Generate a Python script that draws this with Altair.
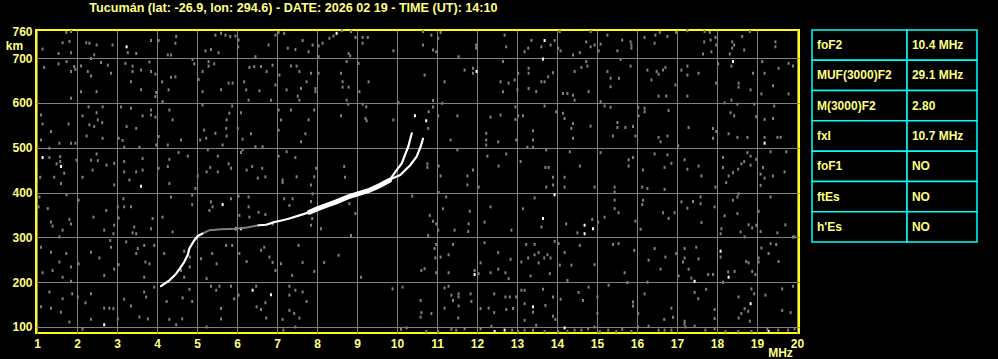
import altair as alt
import pandas as pd

TITLE = "Tucumán (lat: -26.9, lon: 294.6) - DATE: 2026 02 19 - TIME (UT): 14:10"
FREQ_TICKS = list(range(1, 21))
HEIGHT_TICKS = [100, 200, 300, 400, 500, 600, 700, 760]

PARAM_NAMES = ["foF2", "MUF(3000)F2", "M(3000)F2", "fxI", "foF1", "ftEs", "h'Es"]
PARAM_VALUES = ["10.4 MHz", "29.1 MHz", "2.80", "10.7 MHz", "NO", "NO", "NO"]

# ---- ionogram trace (frequency MHz, virtual height km) ----
O_LOW_F = [4.10, 4.31, 4.46, 4.56, 4.68, 4.77, 4.81, 4.93, 5.02, 5.13]
O_LOW_H = [191, 204, 217, 229, 245, 261, 275, 293, 303, 308]
GAP_F = [5.13, 5.31, 5.60, 5.97, 6.25, 6.54]
GAP_H = [308, 316, 318, 319, 322, 327]
MAIN_F = [6.54, 6.73, 6.93, 7.14, 7.31, 7.56, 7.81, 8.02, 8.23, 8.48, 8.77, 9.02, 9.31, 9.56, 9.81]
MAIN_H = [327, 328, 334, 338, 342, 349, 356, 364, 371, 379, 390, 397, 405, 415, 427]
O_TOP_F = [9.81, 9.99, 10.12, 10.20, 10.28, 10.37]
O_TOP_H = [427, 450, 465, 484, 502, 532]
X_TOP_F = [9.85, 10.08, 10.33, 10.49, 10.59, 10.65]
X_TOP_H = [430, 439, 461, 480, 502, 520]

# ---- scattered echoes (frequency MHz, virtual height km) ----
NOISE_GRAY = [
    (1.73,757),(1.85,759),(1.81,737),(1.64,734),(2.31,733),(2.23,734),(2.49,729),(2.89,729),(1.14,720),(1.54,710),
    (1.85,712),(2.43,707),(2.35,699),(3.27,712),(3.48,710),(3.85,739),(4.04,739),(4.48,748),(4.46,733),(4.27,707),
    (4.35,707),(5.46,751),(5.60,755),(5.71,751),(5.83,748),(5.96,749),(6.04,740),(6.03,725),(5.21,716),(5.35,719),
    (5.54,712),(6.46,703),(6.79,729),(6.96,751),(7.04,757),(7.18,755),(7.64,739),(7.89,729),(7.79,714),(7.27,722),
    (7.46,719),(8.04,727),(8.14,733),(8.31,744),(8.41,749),(8.63,761),(8.85,759),(8.96,746),(9.14,746),(9.27,746),
    (9.14,733),(8.79,710),(8.83,705),(8.04,703),(9.91,716),
    (1.18,679),(1.54,687),(1.74,692),(1.85,670),(1.93,681),(1.96,675),(2.10,682),(2.27,670),(2.35,660),(2.85,666),
    (2.10,625),(2.49,625),(1.85,610),(2.60,690),(2.77,684),(3.21,688),(3.39,682),(3.60,673),(3.39,670),(3.81,691),
    (3.85,670),(3.96,664),(4.35,657),(4.46,658),(4.13,647),(3.35,647),(3.60,629),(3.98,623),(3.96,614),(4.29,629),
    (4.89,697),(4.93,687),(5.14,670),(5.29,692),(5.29,682),(5.43,687),(5.04,652),(5.14,625),(5.60,629),(5.79,644),
    (5.89,644),(6.31,679),(6.43,681),(6.60,681),(6.74,670),(6.89,684),(7.06,662),(6.18,647),(6.29,606),(6.56,627),
    (6.23,629),(6.85,606),(6.96,640),(7.35,682),(7.49,682),(7.56,670),(7.85,666),(7.74,647),(7.60,632),(7.24,629),
    (7.52,615),(7.56,606),(7.96,632),(7.96,625),(8.04,666),(8.60,666),(8.64,647),(8.64,635),(8.74,692),(9.04,688),
    (8.79,635),(9.29,647),(9.06,625),(8.74,606),(8.78,597),
    (1.10,573),(1.14,553),(1.35,536),(1.10,517),(1.31,499),(1.56,510),(1.85,510),(1.96,510),(2.29,591),(2.49,578),
    (2.31,551),(2.43,547),(2.52,562),(2.63,556),(2.64,591),(2.14,571),(1.79,553),(2.24,526),(2.64,521),(3.10,591),
    (3.04,521),(3.14,516),(3.24,547),(3.48,543),(3.35,588),(3.64,571),(3.85,584),(3.85,573),(3.96,568),(4.04,525),
    (3.98,506),(4.14,603),(4.31,584),(4.39,562),(4.27,506),(3.56,501),(3.18,501),(5.14,595),(5.18,539),(5.08,517),
    (5.23,521),(5.46,532),(5.73,543),(5.74,562),(5.81,577),(5.88,593),(6.02,543),(6.10,578),(6.14,519),(5.74,526),
    (5.64,506),(4.60,517),(6.35,531),(6.46,502),(6.64,502),(7.04,584),(7.04,539),(7.10,562),(7.35,584),(7.60,513),
    (7.71,531),(7.79,562),(7.93,584),(8.60,571),(9.14,597),(9.23,591),(9.21,565),(9.24,560),(9.91,562),(10.04,600),
    (1.31,478),(1.58,480),(1.58,469),(1.49,464),(1.08,434),(1.43,434),(1.68,443),(1.99,472),(2.14,434),(2.35,472),
    (2.49,486),(2.52,471),(2.39,450),(2.74,461),(2.93,465),(3.18,469),(3.18,446),(3.48,446),(3.64,476),(3.64,450),
    (3.31,428),(4.04,454),(4.27,458),(4.31,474),(4.54,489),(4.77,481),(5.02,437),(5.27,495),(5.24,446),(5.33,456),
    (5.52,481),(5.52,446),(5.79,464),(5.85,454),(6.10,489),(6.14,495),(6.24,450),(6.38,458),(6.52,432),(6.63,454),
    (6.71,435),(7.04,481),(7.24,491),(7.46,478),(7.14,428),(7.49,435),(7.98,454),(7.93,435),(8.68,458),(8.70,434),
    (10.65,759),(10.86,751),(11.09,757),(11.03,744),(10.65,729),(10.90,718),(10.98,714),(11.54,703),(11.98,729),(11.98,722),
    (12.69,751),(12.73,725),(13.19,714),(13.28,722),(13.36,739),(13.84,729),(13.94,739),(13.61,725),(14.07,759),(14.03,722),
    (14.09,716),(14.40,707),(14.57,712),(14.84,759),(14.73,736),(14.84,725),(14.94,729),(15.09,731),(15.04,716),(15.26,751),
    (15.51,716),(15.63,740),(15.84,736),(15.86,729),(15.86,722),(16.19,746),(16.44,733),(16.46,751),(16.57,757),(16.76,748),
    (16.98,757),(17.26,761),(17.69,759),(17.82,757),(17.68,736),(17.84,740),(17.96,746),(17.86,714),(17.65,709),(17.98,729),
    (18.38,736),(18.38,722),(18.43,729),(18.32,709),(18.68,718),(18.82,759),(19.46,736),(19.46,725),(18.63,748),
    (10.69,662),(11.19,647),(11.69,673),(11.90,677),(11.90,666),(12.65,692),(12.59,647),(12.79,644),(12.94,651),(13.03,666),
    (13.29,677),(13.29,666),(13.29,632),(13.48,625),(13.61,647),(13.69,647),(13.78,658),(13.90,667),(12.65,625),(13.01,629),
    (14.44,670),(14.61,679),(14.73,692),(14.76,682),(14.15,621),(14.26,621),(14.40,617),(14.44,606),(14.79,625),(15.09,603),
    (15.26,670),(15.34,655),(15.34,636),(15.55,655),(15.84,682),(15.59,697),(16.26,673),(16.36,651),(16.49,670),(16.54,664),
    (16.65,673),(16.71,679),(16.96,640),(17.11,673),(17.26,682),(17.26,662),(17.54,666),(16.54,615),(16.73,615),(17.26,615),
    (18.03,687),(18.36,682),(18.54,644),(18.54,635),(18.90,666),(18.84,629),(19.19,666),(19.13,692),(19.54,677),(19.79,688),
    (19.90,682),(19.40,638),(19.79,620),(19.11,620),(18.19,600),(18.36,606),(18.51,597),(17.98,644),
    (10.79,580),(10.78,543),(10.90,591),(11.03,571),(11.13,599),(10.90,605),(11.51,571),(11.34,517),(12.23,532),(12.23,517),
    (12.34,568),(12.53,513),(12.59,573),(12.96,591),(12.96,563),(13.03,571),(13.15,571),(12.98,517),(13.40,538),(13.40,517),
    (13.69,593),(13.98,580),(14.15,577),(14.19,565),(14.36,543),(14.40,554),(14.40,521),(14.84,548),(15.19,593),(15.34,590),
    (15.51,556),(15.51,545),(15.71,545),(15.90,547),(15.40,526),(15.96,526),(16.03,590),(16.04,571),(16.19,588),(16.19,580),
    (16.79,583),(17.29,545),(16.54,523),(16.59,513),(16.76,526),(17.90,543),(17.90,521),(17.98,536),(18.34,578),(18.43,571),
    (18.29,531),(18.51,523),(18.76,523),(18.98,569),(19.19,563),(19.40,565),(19.43,593),(19.19,523),(19.51,523),(19.59,523),
    (18.93,597),
    (10.76,464),(10.76,456),(11.04,459),(11.09,437),(11.51,495),(11.76,437),(11.90,450),(12.23,506),(12.26,481),(12.54,459),
    (12.73,486),(13.09,469),(13.26,501),(13.40,501),(13.73,495),(13.71,456),(13.79,456),(13.90,434),(14.19,434),(14.32,491),
    (14.57,459),(15.09,489),(15.79,473),(15.90,478),(15.79,459),(16.15,450),(16.44,486),(16.69,456),(16.76,484),(16.86,465),
    (17.03,504),(17.19,473),(17.26,452),(17.54,459),(17.61,437),(18.15,478),(18.15,456),(18.29,437),(18.40,444),(18.53,452),
    (18.61,464),(18.68,469),(18.76,489),(18.84,481),(18.84,461),(18.98,474),(19.09,441),(19.15,456),(19.19,432),(19.40,437),
    (19.34,491),(19.73,491),(19.69,446),
    (1.60,420),(2.93,417),(4.31,420),(4.96,409),(7.14,422),(7.85,417),(1.06,390),(1.04,368),(1.27,364),(1.74,395),
    (2.04,383),(2.41,345),(2.73,360),(3.02,368),(3.18,368),(3.35,368),(3.16,386),(3.04,343),(1.35,334),(1.39,325),
    (1.64,316),(1.81,340),(1.85,330),(1.56,301),(2.68,316),(2.91,308),(2.93,327),(3.43,323),(3.39,310),(3.48,308),
    (3.85,319),(3.89,342),(4.14,345),(4.35,390),(4.39,312),(4.88,394),(4.88,373),(5.35,379),(5.39,368),(5.31,360),
    (5.85,386),(6.04,392),(6.29,390),(6.29,368),(6.06,349),(6.31,345),(6.54,356),(6.71,351),(7.18,386),(7.39,386),
    (7.31,371),(6.89,330),(7.89,397),(7.88,342),(7.85,327),(8.10,319),(8.81,375),(8.96,353),(8.85,304),(7.85,380),
    (1.10,278),(1.35,267),(1.56,245),(1.85,234),(1.73,264),(1.14,221),(1.39,226),(1.64,211),(1.85,202),(2.04,241),
    (2.35,267),(2.56,254),(2.68,215),(2.83,293),(2.85,278),(3.04,239),(2.93,229),(3.23,290),(3.48,264),(3.52,275),
    (3.68,282),(3.71,245),(3.81,241),(3.68,211),(3.93,282),(4.18,264),(4.68,269),(4.82,256),(4.82,234),(4.60,226),
    (4.68,211),(5.10,252),(5.38,264),(5.49,241),(5.24,208),(5.73,282),(5.88,282),(6.06,264),(6.24,246),(6.60,271),
    (6.68,278),(6.81,256),(6.89,244),(6.96,226),(7.10,241),(7.38,215),(7.54,282),(7.64,244),(7.93,224),(8.18,244),
    (8.54,260),(9.10,211),
    (1.31,178),(1.64,163),(1.88,174),(2.21,154),(2.35,174),(2.02,167),(1.10,145),(1.35,142),(1.60,133),(1.81,111),
    (2.14,95),(2.35,117),(2.68,142),(2.81,142),(2.91,141),(3.02,118),(3.18,162),(3.35,147),(3.56,122),(3.68,178),
    (3.73,167),(3.77,118),(3.93,189),(4.24,157),(4.31,117),(4.64,165),(4.81,184),(4.88,157),(4.48,105),(4.63,118),
    (5.24,100),(5.35,191),(5.48,182),(5.56,191),(5.60,141),(5.85,191),(5.60,118),(5.93,163),(6.04,171),(6.48,191),
    (6.49,145),(6.60,139),(6.73,120),(6.71,154),(7.14,117),(7.31,191),(7.31,171),(7.46,182),(7.64,178),(7.74,157),
    (7.31,137),(7.43,130),(7.56,120),(7.46,100),(7.16,93),(9.89,185),(10.14,189),(10.10,95),(10.24,98),(10.38,392),
    (11.76,417),(12.04,412),(13.73,412),(13.90,417),(14.19,412),(14.94,412),(15.44,412),(15.44,401),(16.13,412),(16.26,409),
    (16.69,407),(17.96,412),(18.23,422),(19.09,416),(11.04,400),(11.23,390),(11.15,364),(10.82,349),(10.90,336),(10.98,330),
    (11.03,316),(11.44,316),(11.82,358),(11.79,330),(11.78,313),(12.19,334),(12.34,368),(12.86,316),(13.15,364),(13.44,388),
    (13.61,323),(14.23,330),(14.51,310),(14.88,340),(15.03,334),(15.19,345),(15.44,364),(15.54,355),(15.44,383),(15.96,336),
    (16.09,318),(16.15,383),(16.13,373),(16.65,355),(16.79,342),(16.94,355),(17.11,379),(17.26,365),(17.40,380),(17.59,390),
    (17.59,375),(17.61,333),(17.94,368),(18.19,348),(18.40,383),(18.51,390),(18.54,397),(18.51,353),(18.11,319),(18.09,308),
    (18.59,312),(18.69,301),(18.79,328),(18.88,321),(18.98,327),(19.04,358),(19.09,313),(19.34,390),(19.51,310),(19.71,328),
    (19.90,301),(10.78,304),
    (10.98,284),(10.94,275),(10.96,254),(11.09,256),(11.29,261),(11.40,284),(10.61,226),(10.69,230),(10.98,221),(11.29,221),
    (11.94,226),(12.04,219),(12.09,243),(12.19,288),(12.34,221),(12.53,266),(12.53,229),(12.71,221),(12.79,208),(12.84,251),
    (13.11,245),(13.23,284),(13.34,214),(13.28,254),(13.44,261),(13.44,284),(13.54,266),(13.54,243),(13.68,254),(13.76,261),
    (13.82,219),(13.84,254),(13.94,291),(14.04,286),(14.07,238),(14.19,266),(14.26,204),(14.36,238),(14.57,282),(14.94,239),
    (15.40,284),(15.54,286),(15.69,221),(15.93,271),(16.29,249),(16.44,275),(16.59,229),(16.71,256),(16.98,264),(17.15,245),
    (17.19,254),(17.04,214),(17.19,275),(17.29,229),(17.48,278),(17.54,252),(17.78,217),(17.90,217),(18.09,256),(18.28,223),
    (18.44,224),(18.73,246),(18.79,243),(18.88,224),(18.96,217),(19.04,254),(19.04,245),(19.11,276),(19.29,264),(19.34,286),
    (19.48,284),(19.54,246),(19.94,301),(17.36,209),
    (11.19,187),(11.29,191),(11.36,171),(11.40,159),(11.54,174),(11.54,167),(11.54,147),(11.84,174),(11.86,157),(10.59,159),
    (10.61,132),(10.59,122),(10.86,130),(11.19,142),(11.53,120),(12.09,141),(12.29,142),(12.43,174),(12.43,132),(12.71,167),
    (12.82,167),(12.73,139),(12.90,141),(12.98,167),(13.11,182),(13.19,182),(13.19,152),(13.40,133),(13.19,115),(13.65,184),
    (13.71,148),(13.90,167),(13.90,124),(13.96,117),(14.09,162),(14.54,177),(14.65,159),(15.01,167),(15.01,130),(14.79,189),
    (15.29,193),(15.76,199),(15.90,156),(15.90,147),(16.03,130),(16.19,174),(16.26,200),(16.68,117),(16.86,142),(16.90,122),
    (17.19,113),(17.21,100),(17.44,177),(17.53,163),(17.73,184),(17.94,139),(17.94,119),(18.15,200),(18.54,167),(18.61,130),
    (18.69,141),(18.78,135),(18.54,120),(18.82,113),(18.86,185),(18.93,174),(19.21,171),(19.63,185),(19.63,137),(19.84,132),
    (19.90,191),
    (10.73,90),(11.03,90),(11.36,95),(11.48,93),(11.69,96),(12.09,96),(12.36,102),(12.88,93),(13.03,90),(13.19,93),
    (13.40,93),(13.48,104),(13.69,90),(14.03,90),(14.26,90),(14.44,93),(14.61,93),(14.78,96),(14.94,100),(15.07,90),
    (15.28,93),(15.48,90),(15.63,95),(15.86,90),(16.03,100),(16.29,102),(16.54,93),(16.69,93),(16.86,93),(17.19,107),
    (17.44,102),(17.71,93),(17.94,96),(18.21,90),(18.53,90),(18.86,90),(19.26,96),(19.53,93),(19.78,93),(19.94,96),
]
NOISE_WHITE = [
    (3.24,725),(8.49,755),(1.14,478),(1.60,458),(13.69,739),(13.65,698),(11.99,670),(18.40,692),(19.19,510),(3.60,414),
    (5.64,373),(2.68,105),(6.39,182),(6.85,172),(13.94,395),(13.65,342),(14.69,327),(14.69,308),(14.90,319),(11.94,217),
    (18.09,269),(18.29,211),(17.44,202),(13.40,145),(18.84,152),(12.44,90),(12.69,93),(14.19,98),(19.29,90),(5.97,319),
    (6.10,319),(10.45,571),(10.73,560),
]

# ---- styling ----
YEL = "#ffff80"
FRAME = "#ffff00"
GRID = "#808080"
CYAN = "#00ffff"
FONT = "Liberation Sans"
W, H = 763, 303
F_SCALE = alt.Scale(domain=[0.975, 20.05], nice=False, zero=False)
H_SCALE = alt.Scale(domain=[86.6, 762.5], nice=False, zero=False)
SPLIT = 95 / 165
T_X = alt.Scale(domain=[0, 1], range=[776, 941], nice=False, zero=False)
T_Y = alt.Scale(domain=[0, 7], range=[0, 212], nice=False, zero=False)

noise_df = pd.DataFrame(NOISE_GRAY, columns=["f", "h"])
white_df = pd.DataFrame(NOISE_WHITE, columns=["f", "h"])

segs = []
for name, fs, hs in [("olow", O_LOW_F, O_LOW_H), ("main", MAIN_F, MAIN_H),
                     ("otop", O_TOP_F, O_TOP_H), ("xtop", X_TOP_F, X_TOP_H)]:
    for i, (f, h) in enumerate(zip(fs, hs)):
        segs.append({"seg": name, "i": i, "f": f, "h": h})
trace_df = pd.DataFrame(segs)
gap_df = pd.DataFrame({"f": GAP_F, "h": GAP_H, "i": range(len(GAP_F))})

x_axis = alt.Axis(values=FREQ_TICKS, grid=True, gridColor=GRID, gridWidth=1, ticks=False, domain=False,
                  labelColor=YEL, labelFont=FONT, labelFontSize=12, labelFontWeight="bold",
                  labelPadding=5, labelFlush=False, labelOverlap=False, format="d",
                  title="MHz", titleColor=YEL, titleFont=FONT, titleFontSize=12, titleFontWeight="bold",
                  titleX=744, titleY=19, titleAlign="center", titleBaseline="middle")
y_axis = alt.Axis(values=HEIGHT_TICKS, grid=True, gridColor=GRID, gridWidth=1,
                  gridOpacity={"condition": {"test": "datum.value == 760", "value": 0}, "value": 1},
                  ticks=False, domain=False, labelColor=YEL, labelFont=FONT, labelFontSize=12,
                  labelFontWeight="bold", labelPadding=4, labelFlush=False, labelOverlap=False, format="d",
                  title="km", titleColor=YEL, titleFont=FONT, titleFontSize=12, titleFontWeight="bold",
                  titleAngle=0, titleX=-22, titleY=15, titleAlign="center", titleBaseline="middle")

def fx(axis=None):
    return alt.X("f:Q", scale=F_SCALE, axis=axis)

def hy(axis=None):
    return alt.Y("h:Q", scale=H_SCALE, axis=axis)

DOT = "M-1,-1.5H1V1.5H-1Z"

gray_dots = alt.Chart(noise_df).mark_point(shape=DOT, size=4, filled=True, color=GRID, opacity=1,
                                           strokeWidth=0).encode(x=fx(x_axis), y=hy(y_axis))
white_dots = alt.Chart(white_df).mark_point(shape=DOT, size=4, filled=True, color="white", opacity=1,
                                            strokeWidth=0).encode(x=fx(), y=hy())
gap_line = alt.Chart(gap_df).mark_line(color=GRID, strokeWidth=2).encode(x=fx(), y=hy(), order="i:Q")
trace = alt.Chart(trace_df).mark_line(color="white", strokeWidth=2.2, strokeCap="round").encode(
    x=fx(), y=hy(), detail="seg:N", order="i:Q")
thick = alt.Chart(trace_df).transform_filter(
    "datum.seg == 'main' && datum.f >= 7.7").mark_line(color="white", strokeWidth=5, strokeCap="round").encode(
    x=fx(), y=hy(), order="i:Q")

cells = []
texts = []
for i, (n, v) in enumerate(zip(PARAM_NAMES, PARAM_VALUES)):
    cells.append({"x0": 0, "x1": SPLIT, "y0": i, "y1": i + 1})
    cells.append({"x0": SPLIT, "x1": 1, "y0": i, "y1": i + 1})
    texts.append({"tx": 0.03, "ty": i + 0.5, "t": n})
    texts.append({"tx": SPLIT + 0.03, "ty": i + 0.5, "t": v})
cells_df = pd.DataFrame(cells)
texts_df = pd.DataFrame(texts)

table_rect = alt.Chart(cells_df).mark_rect(fill="black", stroke=CYAN, strokeWidth=1.5, clip=False).encode(
    x=alt.X("x0:Q", scale=T_X, axis=None), x2="x1:Q",
    y=alt.Y("y0:Q", scale=T_Y, axis=None), y2="y1:Q")
table_text = alt.Chart(texts_df).mark_text(align="left", baseline="middle", color=YEL, font=FONT,
                                           fontSize=12, fontWeight="bold", clip=False).encode(
    x=alt.X("tx:Q", scale=T_X, axis=None),
    y=alt.Y("ty:Q", scale=T_Y, axis=None), text="t:N")

chart = alt.layer(gray_dots, white_dots, gap_line, trace, thick, table_rect, table_text).resolve_scale(
    x="independent", y="independent"
).properties(
    width=W, height=H,
    title=alt.TitleParams(TITLE, anchor="start", dx=84, color=YEL, font=FONT, fontSize=12.6,
                          fontWeight="bold", offset=11),
    autosize=alt.AutoSizeParams(type="none"),
    padding={"left": 36, "top": 30, "right": 199, "bottom": 26},
).configure(background="black").configure_view(stroke=FRAME, strokeWidth=2)

chart.save("out.html", embed_options={"renderer": "svg", "actions": False})
